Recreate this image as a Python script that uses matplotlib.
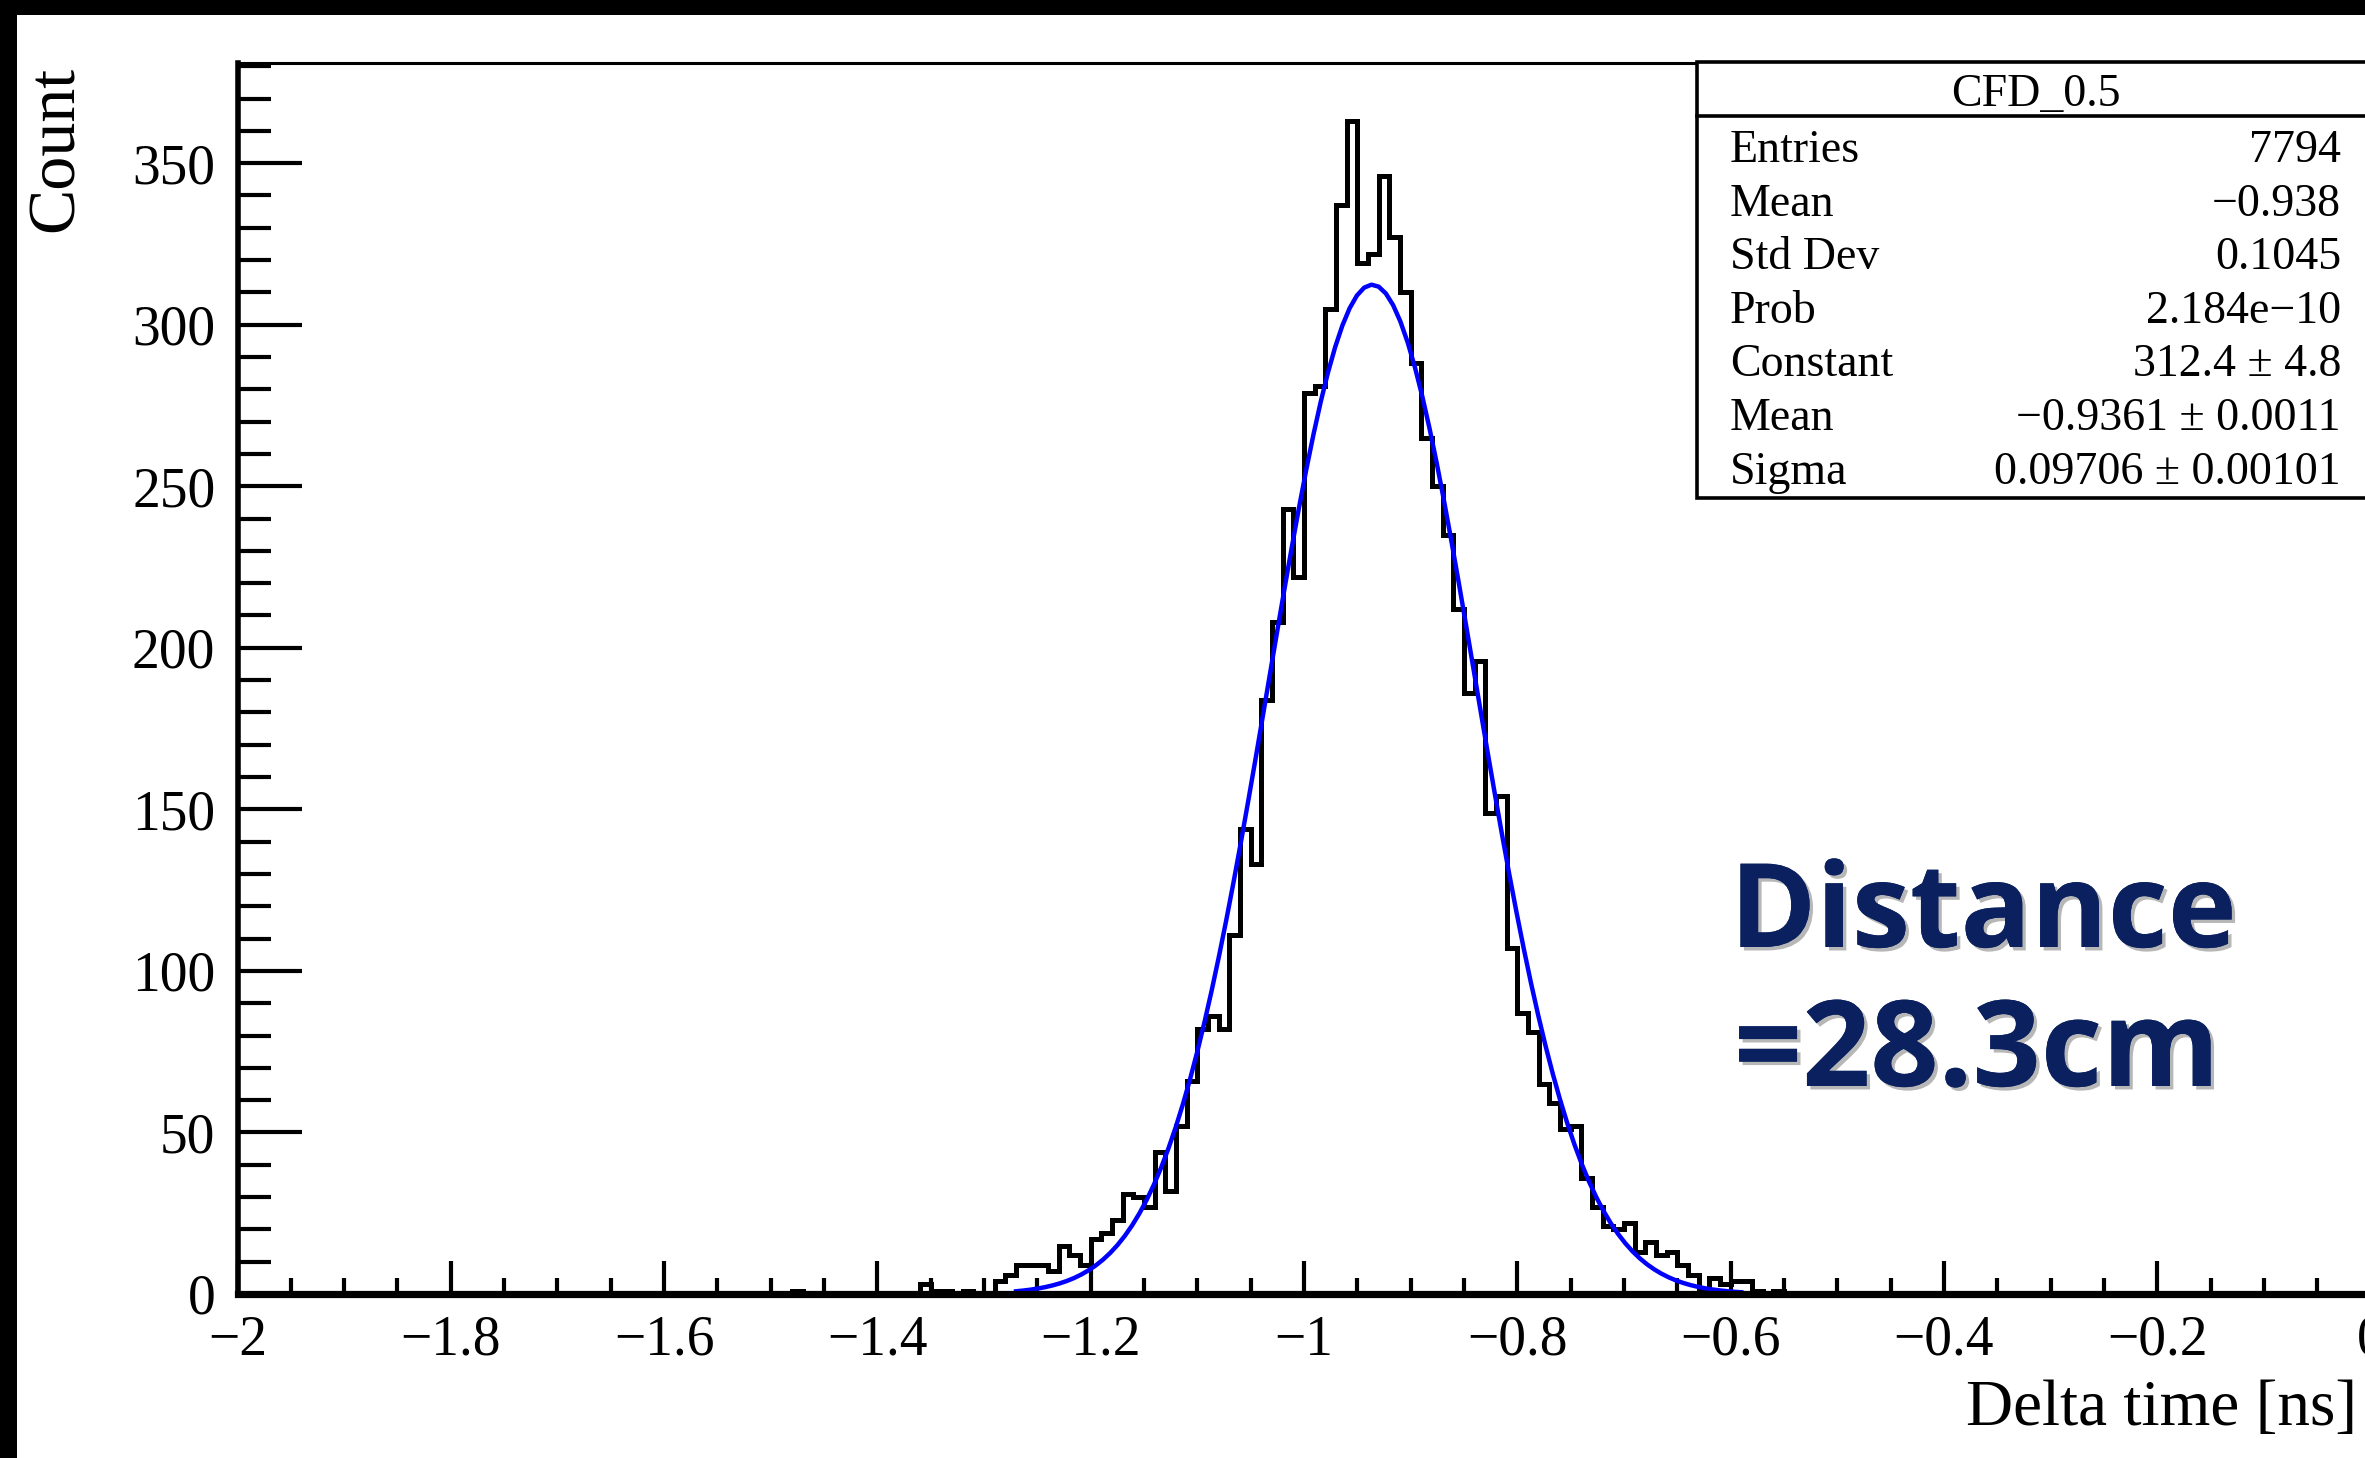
import numpy as np
import matplotlib
matplotlib.use("Agg")
import matplotlib.pyplot as plt
import matplotlib.patheffects as pe
from matplotlib.patches import Rectangle
from matplotlib.lines import Line2D
from matplotlib.ticker import MultipleLocator, FuncFormatter

# histogram: 0.01 ns bins, first bin starts at -1.48 ns
bin_start = -1.48
bin_width = 0.01
counts = [
    1, 0, 0, 0, 0, 0, 0, 0, 0, 0,          # -1.48 .. -1.39
    0, 0, 3, 1, 1, 0, 1, 0, 0, 4,          # -1.38 .. -1.29
    6, 9, 9, 9, 7, 15, 12, 9, 17, 19,      # -1.28 .. -1.19
    23, 31, 30, 27, 44, 32, 52, 66, 82, 86,  # -1.18 .. -1.09
    82, 111, 144, 133, 184, 208, 243, 222, 279, 281,  # -1.08 .. -0.99
    305, 337, 363, 319, 322, 346, 327, 310, 288, 265,  # -0.98 .. -0.89
    250, 235, 212, 186, 196, 149, 154, 107, 87, 81,    # -0.88 .. -0.79
    65, 59, 51, 52, 36, 27, 21, 20, 22, 13,            # -0.78 .. -0.69
    16, 12, 13, 9, 6, 1, 5, 3, 4, 4,                   # -0.68 .. -0.59
    1, 0, 1,                                           # -0.58 .. -0.56
]

# gaussian fit result
fit_const = 312.4
fit_mean = -0.9361
fit_sigma = 0.09706
fit_lo, fit_hi = -1.27, -0.59

stat_title = "CFD_0.5"
stat_names = ["Entries", "Mean", "Std Dev", "Prob", "Constant", "Mean", "Sigma"]
stat_values = ["7794", "\u22120.938", "0.1045", "2.184e\u221210", "312.4 \u00b1 4.8",
               "\u22120.9361 \u00b1 0.0011", "0.09706 \u00b1 0.00101"]

W, H = 2365, 1458
serif = "Liberation Serif"

fig = plt.figure(figsize=(W / 100, H / 100), dpi=100)
fig.patch.set_facecolor("white")

ax = fig.add_axes([237.5 / W, 1 - 1294 / H, 2133 / W, (1294 - 63) / H])

edges = bin_start + bin_width * np.arange(len(counts) + 1)
ax.stairs(counts, edges, color="black", lw=3.6, zorder=3)

xf = np.linspace(fit_lo, fit_hi, 101)
yf = fit_const * np.exp(-0.5 * ((xf - fit_mean) / fit_sigma) ** 2)
ax.plot(xf, yf, color="#0000ff", lw=3.2, zorder=4)

ax.set_xlim(-2, 0)
ax.set_ylim(0, 381)

ax.spines["right"].set_visible(False)
ax.spines["left"].set_linewidth(4.0)
ax.spines["bottom"].set_linewidth(5.2)
ax.spines["top"].set_linewidth(2.2)
ax.spines["bottom"].set_zorder(5)

ax.xaxis.set_major_locator(MultipleLocator(0.2))
ax.xaxis.set_minor_locator(MultipleLocator(0.05))
ax.yaxis.set_major_locator(MultipleLocator(50))
ax.yaxis.set_minor_locator(MultipleLocator(10))
ax.xaxis.set_major_formatter(FuncFormatter(lambda v, p: ("%g" % round(v, 2)).replace("-", "\u2212")))

ax.tick_params(axis="x", which="major", direction="in", length=24, width=3.0, pad=15,
               labelsize=40, top=False)
ax.tick_params(axis="x", which="minor", direction="in", length=11.5, width=3.0, top=False)
ax.tick_params(axis="y", which="major", direction="in", length=46, width=3.0, pad=16,
               labelsize=40, right=False)
ax.tick_params(axis="y", which="minor", direction="in", length=23.5, width=3.0, right=False)
for lab in ax.get_xticklabels() + ax.get_yticklabels():
    lab.set_fontfamily(serif)

# axis titles (ROOT style, aligned to axis ends)
fig.text(56 / W, 1 - 66 / H, "Count", rotation=90, ha="center", va="top",
         fontsize=49, family=serif)
fig.text(2357 / W, 1 - 1425 / H, "Delta time [ns]", ha="right", va="baseline",
         fontsize=47, family=serif)

# black borders of the screenshot
fig.add_artist(Rectangle((0, 0), 17 / W, 1, transform=fig.transFigure,
                         facecolor="black", edgecolor="none", zorder=10))
fig.add_artist(Rectangle((0, 1 - 15 / H), 1, 15 / H, transform=fig.transFigure,
                         facecolor="black", edgecolor="none", zorder=10))

# stats box
fig.add_artist(Rectangle((1697 / W, 1 - 498 / H), (2450 - 1697) / W, (498 - 62) / H,
                         transform=fig.transFigure, facecolor="white",
                         edgecolor="black", lw=2.6, zorder=6))
fig.add_artist(Line2D([1697 / W, 1.05], [1 - 116 / H] * 2, transform=fig.transFigure,
                      color="black", lw=2.6, zorder=7))
fig.text(2036 / W, 1 - 106 / H, stat_title, ha="center", va="baseline",
         fontsize=33, family=serif, zorder=8)
for i, (nm, val) in enumerate(zip(stat_names, stat_values)):
    yb = 1 - (162 + i * 53.6) / H
    fig.text(1730 / W, yb, nm, ha="left", va="baseline", fontsize=33, family=serif, zorder=8)
    fig.text(2341 / W, yb, val, ha="right", va="baseline", fontsize=33, family=serif, zorder=8)

# annotation
shadow = [pe.withSimplePatchShadow(offset=(2.5, -2.5), shadow_rgbFace="#888888", alpha=0.6),
          pe.Normal()]
for txt, x0, yb, fs in [("Distance", 1730, 947, 84), ("=28.3cm", 1734, 1086, 86)]:
    fig.text(x0 / W, 1 - yb / H, txt, ha="left", va="baseline", fontsize=fs,
             family="Open Sans", fontweight="bold", color="#0b215f",
             path_effects=shadow, zorder=9)

fig.savefig("out.png", dpi=100, facecolor="white")
